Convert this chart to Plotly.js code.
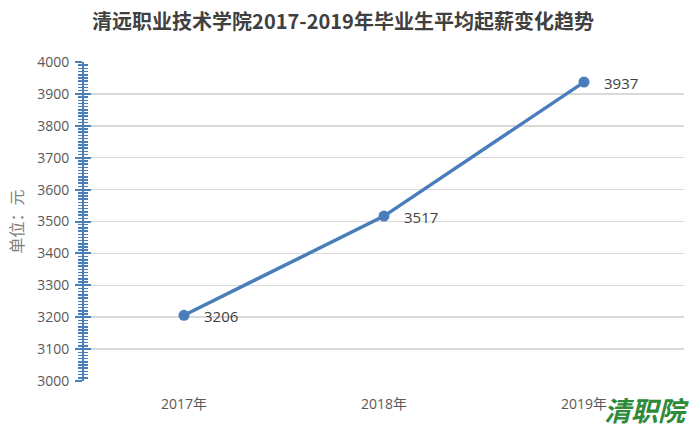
<!DOCTYPE html>
<html>
<head>
<meta charset="utf-8">
<script src="https://cdn.plot.ly/plotly-3.0.1.min.js"></script>
<style>html,body{margin:0;padding:0;background:#fff;}#chart{width:700px;height:441px;}</style>
</head>
<body>
<div id="chart"></div>
<script>
const years = ["2017年", "2018年", "2019年"];
const salaries = [3206, 3517, 3937];
const titleText = "清远职业技术学院2017-2019年毕业生平均起薪变化趋势";
const yTitleText = "单位：元";
const watermarkText = "清职院";

const blue = "#4a7ebb";
const cjk = "'Noto Sans CJK SC', 'Noto Sans', sans-serif";
const latin = "'Open Sans', 'Liberation Sans', 'Noto Sans CJK SC', sans-serif";

const trace = {
  x: years,
  y: salaries,
  type: "scatter",
  mode: "lines+markers",
  line: {color: blue, width: 3.5},
  marker: {color: blue, size: 11},
  cliponaxis: false,
  hoverinfo: "skip"
};

const dummy = {x: years, y: salaries, yaxis: "y2", type: "scatter", mode: "none", hoverinfo: "skip", showlegend: false};

const valueLabels = years.map((yr, i) => ({
  x: yr, y: salaries[i], xref: "x", yref: "y",
  text: String(salaries[i]), showarrow: false,
  xanchor: "left", yanchor: "middle", xshift: 18, yshift: -1,
  font: {family: latin, size: 15, color: "#404040"}
}));

const layout = {
  width: 700, height: 441,
  margin: {l: 84, r: 16, t: 62, b: 60},
  paper_bgcolor: "#fff", plot_bgcolor: "#fff",
  showlegend: false,
  title: {
    text: titleText,
    font: {family: cjk, size: 20, color: "#404040", weight: "bold"},
    x: 343/700, xanchor: "center", xref: "container",
    y: 1 - 22/441, yref: "container", yanchor: "middle"
  },
  xaxis: {
    type: "category",
    range: [-0.5, 2.5],
    showgrid: false, zeroline: false, showline: false,
    ticks: "",
    tickfont: {family: latin, size: 14, color: "#595959"},
    ticklabelstandoff: 13
  },
  yaxis: {
    range: [3000, 4000],
    dtick: 100, tick0: 3000,
    showgrid: true, gridcolor: "#d9d9d9", gridwidth: 1.5,
    zeroline: false,
    showline: true, linecolor: blue, linewidth: 2,
    ticks: "outside", ticklen: 7, tickwidth: 2, tickcolor: blue,
    minor: {dtick: 10, ticks: "outside", ticklen: 4, tickwidth: 1.5, tickcolor: blue, showgrid: false},
    tickfont: {family: latin, size: 14, color: "#595959"},
    ticklabelstandoff: 3
  },
  yaxis2: {
    overlaying: "y",
    side: "left",
    range: [3000, 4000],
    dtick: 100, tick0: 3000,
    showgrid: false, zeroline: false, showline: false,
    ticks: "inside", ticklen: 7, tickwidth: 2, tickcolor: blue,
    minor: {dtick: 10, ticks: "inside", ticklen: 4, tickwidth: 1.5, tickcolor: blue, showgrid: false},
    showticklabels: false
  },
  annotations: valueLabels.concat([
    {
      text: yTitleText, xref: "paper", yref: "paper",
      x: -0.115, y: 0.5, xanchor: "center", yanchor: "middle",
      textangle: -90, showarrow: false,
      font: {family: cjk, size: 16, color: "#7f7f7f"}
    },
    {
      text: "<i>" + watermarkText + "</i>", xref: "paper", yref: "paper",
      x: 1.012, y: -0.09, xanchor: "right", yanchor: "middle",
      showarrow: false,
      font: {family: cjk, size: 27, color: "#2f8a3a", weight: "bold"}
    }
  ])
};

Plotly.newPlot("chart", [trace, dummy], layout, {staticPlot: true, displayModeBar: false});
</script>
</body>
</html>
